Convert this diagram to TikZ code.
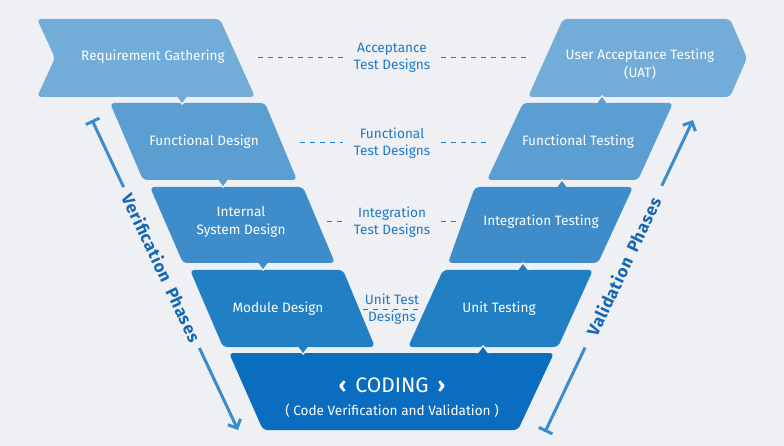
\documentclass[tikz,border=0pt]{standalone}
\usepackage{fontspec}
\setmainfont{Fira Sans}
\usetikzlibrary{arrows.meta}
\definecolor{bg}{HTML}{EFF0F4}
\definecolor{lvone}{HTML}{72ACD8}
\definecolor{lvtwo}{HTML}{5B9FD2}
\definecolor{lvthree}{HTML}{3E8DCA}
\definecolor{lvfour}{HTML}{2180C4}
\definecolor{lvfive}{HTML}{0B6DBF}
\definecolor{lbl}{HTML}{1E79C4}
\definecolor{phase}{HTML}{3A8CCD}
\definecolor{phasetxt}{HTML}{1467B3}

\begin{document}
\begin{tikzpicture}[x=1pt,y=-1pt,
  band/.style={rounded corners=4pt},
  stage/.style={text=white,font=\fontsize{13.6}{17.5}\selectfont,align=center},
  link/.style={text=lbl,font=\fontsize{13.6}{17.5}\selectfont,align=center,inner xsep=11pt},
  dashline/.style={lbl,line width=1pt,dash pattern=on 5pt off 5pt},
  phaseline/.style={phase,line width=3pt},
  phasename/.style={text=phasetxt,font=\bfseries\fontsize{17}{20}\selectfont\addfontfeatures{LetterSpace=4},fill=bg,sloped}]

\fill[bg] (0,0) rectangle (784,446);
\useasboundingbox (0,0) rectangle (784,446);

% verification side
\fill[lvone,band] (37,19) -- (220,19) -- (255,97) -- (37,97) -- (55,58) -- cycle;
\fill[lvtwo,band] (110,103) -- (265,103) -- (297,180) -- (143,180) -- cycle;
\fill[lvthree,band] (150,187) -- (303,187) -- (335,263) -- (183,263) -- cycle;
\fill[lvfour,band] (190,270) -- (343,270) -- (375,347) -- (223,347) -- cycle;

% coding
\fill[lvfive,band] (229,353) -- (554,353) -- (518,430) -- (263,430) -- cycle;

% validation side
\fill[lvfour,band] (443,270) -- (593,270) -- (558,347) -- (408,347) -- cycle;
\fill[lvthree,band] (475,187) -- (633,187) -- (598,263) -- (448,263) -- cycle;
\fill[lvtwo,band] (523,103) -- (673,103) -- (638,180) -- (487,180) -- cycle;
\fill[lvone,band] (563,19) -- (730,19) -- (747,58) -- (730,97) -- (528,97) -- cycle;

% small tips between the bands
\foreach \x/\y/\c in {182/97/lvone,223/180/lvtwo,263/263/lvthree,303/347/lvfour}{
  \fill[bg] (\x-8,\y) -- (\x,\y+8) -- (\x+8,\y) -- cycle;
  \fill[\c] (\x-6,\y-2) -- (\x,\y+6) -- (\x+6,\y-2) -- cycle;
}
\foreach \x/\y/\c in {483/353/lvfive,523/270/lvfour,562/187/lvthree,602/103/lvtwo}{
  \fill[bg] (\x-8,\y) -- (\x,\y-8) -- (\x+8,\y) -- cycle;
  \fill[\c] (\x-6,\y+2) -- (\x,\y-6) -- (\x+6,\y+2) -- cycle;
}

% stage names
\node[stage] (rg) at (153,57) {Requirement Gathering};
\node[stage] (fd) at (204,142) {Functional Design};
\node[stage] (isd) at (241,222) {Internal\\System Design};
\node[stage] (md) at (278,309) {Module Design};
\node[stage] (uat) at (640,64) {User Acceptance Testing\\(UAT)};
\node[stage] (ft) at (578,142) {Functional Testing};
\node[stage] (it) at (541,222) {Integration Testing};
\node[stage] (ut) at (499,309) {Unit Testing};
\node[text=white,font=\fontsize{21}{24}\selectfont] (coding) at (392,385) {\textbf{‹}\, CODING \,\textbf{›}};
\node[stage] (cvv) at (392,411) {( Code Verification and Validation )};

% test designs in the middle
\node[link] (atd) at (392,58) {Acceptance\\Test Designs};
\node[link] (ftd) at (392,143) {Functional\\Test Designs};
\node[link] (itd) at (392,222) {Integration\\Test Designs};
\node[link,inner xsep=0pt] (utd) at (392,309) {Unit Test\\Designs};

\coordinate (rg-e) at (258,58);
\coordinate (uat-w) at (527,58);
\coordinate (fd-e) at (300,143);
\coordinate (ft-w) at (486,143);
\coordinate (isd-e) at (327,222);
\coordinate (it-w) at (458,222);
\coordinate (md-e) at (363,309);
\coordinate (ut-w) at (421,309);

\draw[dashline] (rg-e) -- (atd.west);
\draw[dashline] (atd.east) -- (uat-w);
\draw[dashline] (fd-e) -- (ftd.west);
\draw[dashline] (ftd.east) -- (ft-w);
\draw[dashline] (isd-e) -- (itd.west);
\draw[dashline] (itd.east) -- (it-w);
\draw[dashline] (md-e) -- (ut-w);

% phases
\coordinate (ver-a) at (92,120);
\coordinate (ver-b) at (238,430);
\coordinate (val-a) at (545,432);
\coordinate (val-b) at (693,120);

\draw[phaseline,{Bar[width=15pt]}-{Straight Barb[length=7pt,width=14pt]}] (ver-a) -- (ver-b)
  node[phasename,pos=0.476,inner xsep=8pt] {Verification\hspace{8pt}Phases};
\draw[phaseline,{Bar[width=15pt]}-{Straight Barb[length=7pt,width=14pt]}] (val-a) -- (val-b)
  node[phasename,pos=0.53,inner xsep=14pt] {Validation\hspace{8pt}Phases};
\end{tikzpicture}
\end{document}
